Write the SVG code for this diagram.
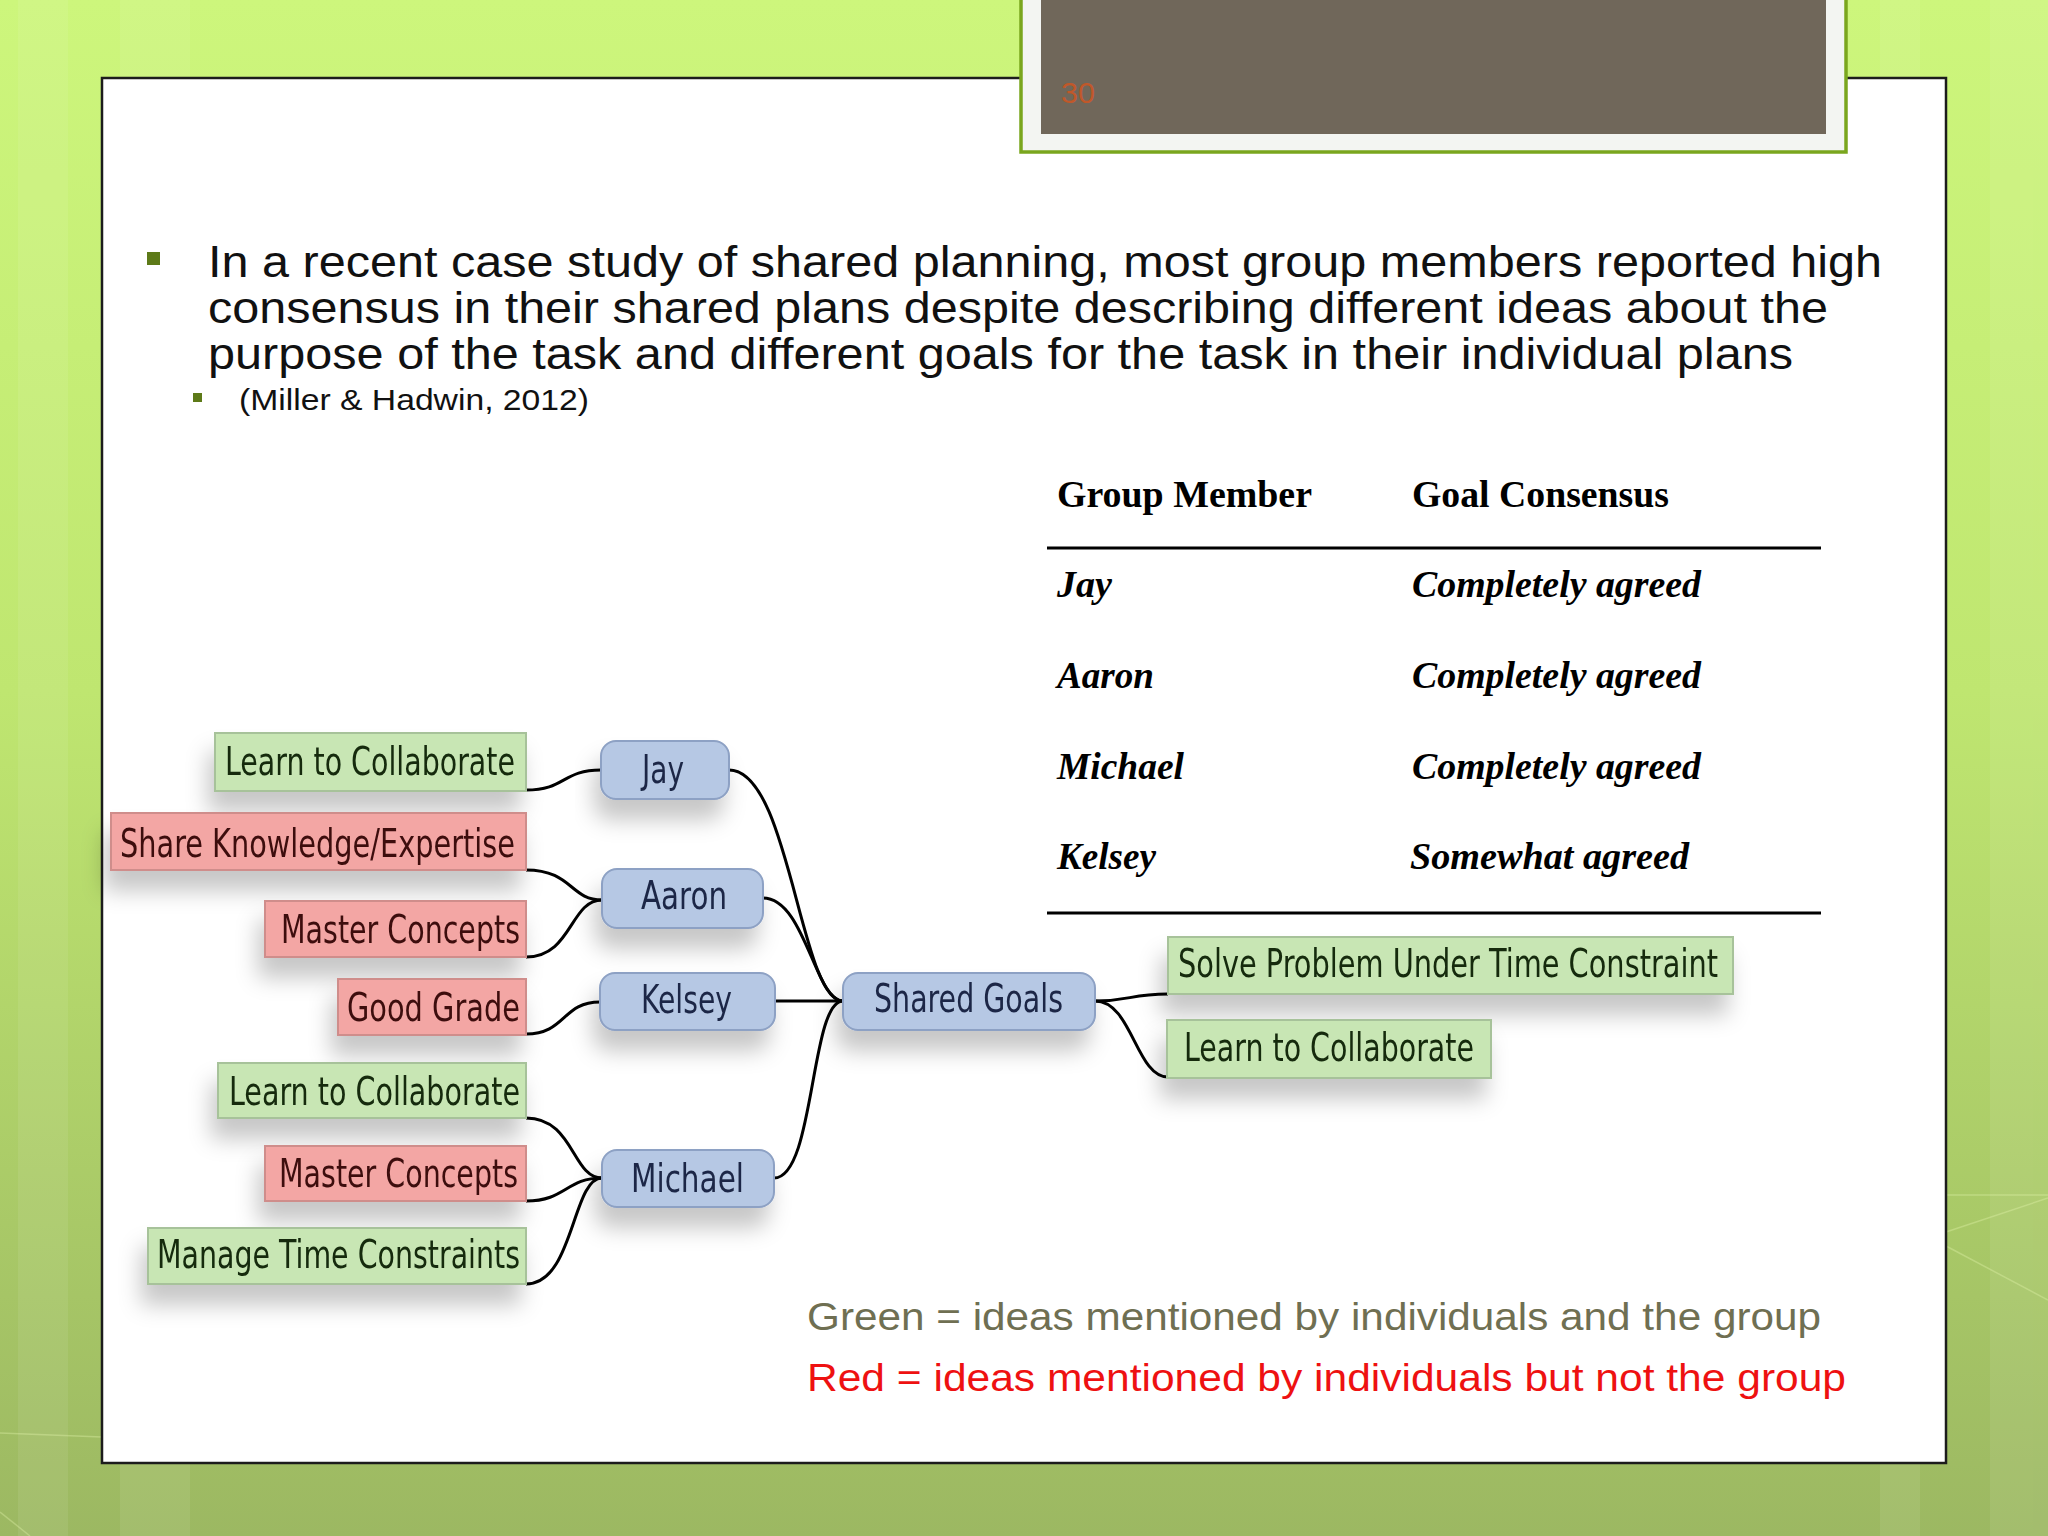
<svg xmlns="http://www.w3.org/2000/svg" width="2048" height="1536" viewBox="0 0 2048 1536">
  <defs>
    <linearGradient id="bg" x1="0" y1="0" x2="0" y2="1">
      <stop offset="0" stop-color="#cdf67c"/>
      <stop offset="0.45" stop-color="#bfe670"/>
      <stop offset="1" stop-color="#9cb862"/>
    </linearGradient>
    <filter id="sh" x="-20%" y="-40%" width="140%" height="220%">
      <feDropShadow dx="-6" dy="20" stdDeviation="11" flood-color="#000" flood-opacity="0.22"/>
    </filter>
    <style>
      .leafG { fill: #c8e6b4; stroke: #a7c29a; stroke-width: 2; }
      .leafR { fill: #f3a6a4; stroke: #cf8d8b; stroke-width: 2; }
      .mem { fill: #b6c8e4; stroke: #8da1c4; stroke-width: 2; }
      .nt { font-family: "Liberation Sans Narrow", "DejaVu Sans Condensed", "Liberation Sans", sans-serif; font-size: 39px; }
      .tg { fill: #132a0c; }
      .tr { fill: #3e0f0f; }
      .tb { fill: #1d2846; }
      .con { fill: none; stroke: #000; stroke-width: 3; }
      .body { font-family: "Liberation Sans", Arial, sans-serif; fill: #111; }
      .th { font-family: "Liberation Serif", "Times New Roman", serif; font-weight: bold; font-size: 38px; fill: #000; }
      .td { font-family: "Liberation Serif", "Times New Roman", serif; font-weight: bold; font-style: italic; font-size: 38px; fill: #000; }
      .leg { font-family: "Liberation Sans", Arial, sans-serif; font-size: 38px; }
    </style>
  </defs>

  <!-- background -->
  <rect x="0" y="0" width="2048" height="1536" fill="url(#bg)"/>
  <g fill="#ffffff" opacity="0.07">
    <rect x="18" y="0" width="50" height="1536"/>
    <rect x="120" y="0" width="60" height="1536"/>
    <rect x="178" y="0" width="12" height="1536"/>
    <rect x="1880" y="0" width="40" height="1536"/>
    <rect x="1990" y="0" width="58" height="1536"/>
  </g>
  <g stroke="#e6f7b0" stroke-width="1.5" opacity="0.35" fill="none">
    <path d="M0,1433 L102,1437"/>
    <path d="M0,1512 L30,1536"/>
    <path d="M1946,1195 L2048,1195"/>
    <path d="M1946,1232 L2048,1198"/>
    <path d="M1946,1246 L2048,1300"/>
  </g>

  <!-- slide panel -->
  <rect x="102" y="78" width="1844" height="1385" fill="#ffffff" stroke="#1c1c1c" stroke-width="2.5"/>

  <!-- page number box -->
  <g id="page-number">
    <rect x="1021" y="-4" width="825" height="156" fill="#f3f5f2" stroke="#7aa61e" stroke-width="3.5"/>
    <rect x="1041" y="0" width="785" height="134" fill="#70675a"/>
    <text x="1061" y="103" font-family="Liberation Sans Narrow, Liberation Sans, sans-serif" font-size="30" fill="#c0582a" textLength="34" lengthAdjust="spacingAndGlyphs">30</text>
  </g>

  <!-- bullet text -->
  <g id="bullets">
    <rect x="147" y="252" width="13" height="13" fill="#5d7a18"/>
    <text class="body" font-size="44" x="208" y="277" textLength="1674" lengthAdjust="spacingAndGlyphs">In a recent case study of shared planning, most group members reported high</text>
    <text class="body" font-size="44" x="208" y="323" textLength="1620" lengthAdjust="spacingAndGlyphs">consensus in their shared plans despite describing different ideas about the</text>
    <text class="body" font-size="44" x="208" y="369" textLength="1585" lengthAdjust="spacingAndGlyphs">purpose of the task and different goals for the task in their individual plans</text>
    <rect x="193" y="393" width="9" height="9" fill="#5d7a18"/>
    <text class="body" font-size="30" x="239" y="410" textLength="350" lengthAdjust="spacingAndGlyphs">(Miller &amp; Hadwin, 2012)</text>
  </g>

  <!-- table -->
  <g id="table">
    <text class="th" x="1057" y="507" textLength="255" lengthAdjust="spacingAndGlyphs">Group Member</text>
    <text class="th" x="1412" y="507" textLength="257" lengthAdjust="spacingAndGlyphs">Goal Consensus</text>
    <line x1="1047" y1="548" x2="1821" y2="548" stroke="#000" stroke-width="3"/>
    <text class="td" x="1057" y="597" textLength="55" lengthAdjust="spacingAndGlyphs">Jay</text>
    <text class="td" x="1412" y="597" textLength="289" lengthAdjust="spacingAndGlyphs">Completely agreed</text>
    <text class="td" x="1057" y="688" textLength="97" lengthAdjust="spacingAndGlyphs">Aaron</text>
    <text class="td" x="1412" y="688" textLength="289" lengthAdjust="spacingAndGlyphs">Completely agreed</text>
    <text class="td" x="1057" y="779" textLength="127" lengthAdjust="spacingAndGlyphs">Michael</text>
    <text class="td" x="1412" y="779" textLength="289" lengthAdjust="spacingAndGlyphs">Completely agreed</text>
    <text class="td" x="1057" y="869" textLength="99" lengthAdjust="spacingAndGlyphs">Kelsey</text>
    <text class="td" x="1410" y="869" textLength="279" lengthAdjust="spacingAndGlyphs">Somewhat agreed</text>
    <line x1="1047" y1="913" x2="1821" y2="913" stroke="#000" stroke-width="3"/>
  </g>

  <!-- connectors -->
  <g id="connectors" class="con">
    <path class="con" d="M526,790 C566,790 562,770 601,770"/>
    <path class="con" d="M526,870 C572,870 570,900 602,900"/>
    <path class="con" d="M526,957 C572,957 570,900 602,900"/>
    <path class="con" d="M526,1034 C566,1034 562,1002 600,1002"/>
    <path class="con" d="M526,1118 C574,1118 572,1178 602,1178"/>
    <path class="con" d="M526,1201 C566,1201 566,1178 602,1178"/>
    <path class="con" d="M526,1284 C574,1284 572,1178 602,1178"/>
    <path class="con" d="M729,770 C790,770 800,1001 843,1001"/>
    <path class="con" d="M763,898 C805,898 815,1001 843,1001"/>
    <path class="con" d="M775,1001 L843,1001"/>
    <path class="con" d="M774,1178 C815,1178 810,1001 843,1001"/>
    <path class="con" d="M1095,1001 C1130,1001 1130,994 1168,994"/>
    <path class="con" d="M1095,1001 C1132,1001 1136,1077 1168,1077"/>
  </g>

  <!-- nodes -->
  <g id="jay-learn" filter="url(#sh)">
    <rect class="leafG" x="215" y="733" width="311" height="58"/>
    <text class="nt tg" x="225" y="775" textLength="290" lengthAdjust="spacingAndGlyphs">Learn to Collaborate</text>
  </g>
  <g id="aaron-share" filter="url(#sh)">
    <rect class="leafR" x="111" y="813" width="415" height="57"/>
    <text class="nt tr" x="120" y="857" textLength="395" lengthAdjust="spacingAndGlyphs">Share Knowledge/Expertise</text>
  </g>
  <g id="aaron-master" filter="url(#sh)">
    <rect class="leafR" x="265" y="901" width="261" height="56"/>
    <text class="nt tr" x="281" y="943" textLength="239" lengthAdjust="spacingAndGlyphs">Master Concepts</text>
  </g>
  <g id="kelsey-grade" filter="url(#sh)">
    <rect class="leafR" x="338" y="979" width="188" height="56"/>
    <text class="nt tr" x="347" y="1021" textLength="173" lengthAdjust="spacingAndGlyphs">Good Grade</text>
  </g>
  <g id="michael-learn" filter="url(#sh)">
    <rect class="leafG" x="218" y="1063" width="308" height="55"/>
    <text class="nt tg" x="229" y="1105" textLength="291" lengthAdjust="spacingAndGlyphs">Learn to Collaborate</text>
  </g>
  <g id="michael-master" filter="url(#sh)">
    <rect class="leafR" x="265" y="1146" width="261" height="55"/>
    <text class="nt tr" x="279" y="1187" textLength="239" lengthAdjust="spacingAndGlyphs">Master Concepts</text>
  </g>
  <g id="michael-manage" filter="url(#sh)">
    <rect class="leafG" x="148" y="1228" width="378" height="56"/>
    <text class="nt tg" x="157" y="1268" textLength="363" lengthAdjust="spacingAndGlyphs">Manage Time Constraints</text>
  </g>

  <g id="jay" filter="url(#sh)">
    <rect class="mem" x="601" y="741" width="128" height="58" rx="15"/>
    <text class="nt tb" x="642" y="783" textLength="42" lengthAdjust="spacingAndGlyphs">Jay</text>
  </g>
  <g id="aaron" filter="url(#sh)">
    <rect class="mem" x="602" y="869" width="161" height="59" rx="15"/>
    <text class="nt tb" x="641" y="909" textLength="86" lengthAdjust="spacingAndGlyphs">Aaron</text>
  </g>
  <g id="kelsey" filter="url(#sh)">
    <rect class="mem" x="600" y="973" width="175" height="57" rx="15"/>
    <text class="nt tb" x="641" y="1013" textLength="91" lengthAdjust="spacingAndGlyphs">Kelsey</text>
  </g>
  <g id="michael" filter="url(#sh)">
    <rect class="mem" x="602" y="1150" width="172" height="57" rx="15"/>
    <text class="nt tb" x="631" y="1192" textLength="113" lengthAdjust="spacingAndGlyphs">Michael</text>
  </g>
  <g id="shared-goals" filter="url(#sh)">
    <rect class="mem" x="843" y="973" width="252" height="57" rx="15"/>
    <text class="nt tb" x="874" y="1012" textLength="189" lengthAdjust="spacingAndGlyphs">Shared Goals</text>
  </g>
  <g id="group-solve" filter="url(#sh)">
    <rect class="leafG" x="1168" y="937" width="565" height="57"/>
    <text class="nt tg" x="1178" y="977" textLength="540" lengthAdjust="spacingAndGlyphs">Solve Problem Under Time Constraint</text>
  </g>
  <g id="group-learn" filter="url(#sh)">
    <rect class="leafG" x="1167" y="1020" width="324" height="58"/>
    <text class="nt tg" x="1184" y="1061" textLength="290" lengthAdjust="spacingAndGlyphs">Learn to Collaborate</text>
  </g>

  <!-- legend -->
  <g id="legend">
    <text class="leg" x="807" y="1330" fill="#6f6f52" textLength="1014" lengthAdjust="spacingAndGlyphs">Green = ideas mentioned by individuals and the group</text>
    <text class="leg" x="807" y="1391" fill="#ee1111" textLength="1039" lengthAdjust="spacingAndGlyphs">Red = ideas mentioned by individuals but not the group</text>
  </g>
</svg>
